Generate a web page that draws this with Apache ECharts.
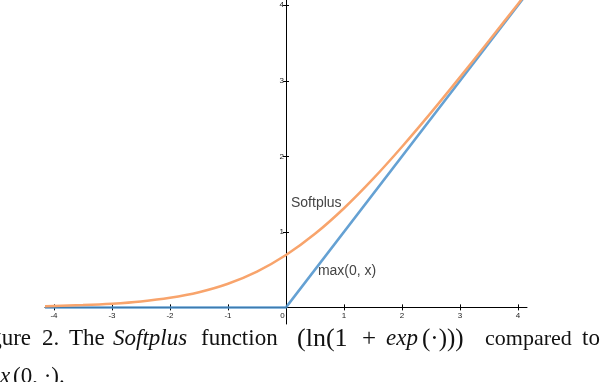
<!DOCTYPE html>
<html><head><meta charset="utf-8">
<script src="https://cdn.jsdelivr.net/npm/echarts@6/dist/echarts.min.js"></script>
<style>html,body{margin:0;padding:0;background:#fff}#c{width:608px;height:382px}</style>
</head><body><div id="c"></div>
<script>
// Data
const softplusX = [-4.155, -4, -3.5, -3, -2.5, -2, -1.5, -1, -0.5, 0, 0.5, 1, 1.5, 2, 2.5, 3, 3.5, 4, 4.155];
const softplusY = [0.016, 0.018, 0.03, 0.049, 0.079, 0.127, 0.201, 0.313, 0.474, 0.693, 0.974, 1.313, 1.701, 2.127, 2.579, 3.049, 3.53, 4.018, 4.17];
const reluX = [-4.155, 0, 4.155];
const reluY = [0, 0, 4.155];
const xTicks = [-4, -3, -2, -1, 0, 1, 2, 3, 4];
const yTicks = [1, 2, 3, 4];
const yTickMarks = [0, 1, 2, 3, 4];
const softplusLabel = 'Softplus';
const reluLabel = 'max(0, x)';

const X_MIN = -4.155, X_MAX = 4.155, Y_MIN = -0.22, Y_MAX = 4.07;
const ORANGE = '#f8a46c', BLUE = '#4a90cb';

// layout
const G = {left: 45, right: 81, top: 0, bottom: 58};
const W = 608, H = 382;
const gw = W - G.left - G.right, gh = H - G.top - G.bottom;
const zeroX = G.left + (0 - X_MIN) / (X_MAX - X_MIN) * gw;        // pixel of x = 0
const zeroY = G.top + (Y_MAX - 0) / (Y_MAX - Y_MIN) * gh;         // pixel of y = 0
const xOff = -(H - G.bottom - zeroY);   // move x axis from grid bottom up to y = 0
const yOff = -(zeroX - G.left);         // move y axis from grid left to x = 0

const chart = echarts.init(document.getElementById('c'), null, {renderer: 'canvas'});
const lblFont = {fontSize: 8, fontFamily: 'Liberation Sans', color: '#222'};
const serif = '23px "Liberation Serif"';
const serifS = '22px "Liberation Serif"';
const serifM = '25px "Liberation Serif"';
const serifL = '26px "Liberation Serif"';
const serifI = 'italic 23px "Liberation Serif"';
function cap(text, x, y, font, align) {
  return {type: 'text', x: x, y: y, silent: true,
    style: {text: text, font: font, fill: '#111', align: align || 'left', verticalAlign: 'middle'}};
}
const tickStyle = {color: '#000', width: 1};
chart.setOption({
  animation: false,
  grid: G,
  xAxis: [{
    type: 'value', min: X_MIN, max: X_MAX, position: 'bottom', offset: xOff,
    axisLine: {onZero: false, lineStyle: {color: '#000', width: 1}},
    axisTick: {show: true, length: 3, customValues: xTicks, lineStyle: tickStyle},
    axisLabel: Object.assign({customValues: xTicks, margin: 4,
      formatter: v => v === 0 ? '{z|0}' : String(v),
      rich: {z: {fontSize: 8, fontFamily: 'Liberation Sans', color: '#222', padding: [0, 7, 0, 0]}}}, lblFont),
    splitLine: {show: false}
  }, {
    type: 'value', min: X_MIN, max: X_MAX, position: 'bottom', offset: xOff,
    axisLine: {show: false, onZero: false},
    axisTick: {show: true, inside: true, length: 3, customValues: xTicks, lineStyle: tickStyle},
    axisLabel: {show: false}, splitLine: {show: false}
  }],
  yAxis: [{
    type: 'value', min: Y_MIN, max: Y_MAX, position: 'left', offset: yOff,
    axisLine: {show: true, onZero: false, lineStyle: {color: '#000', width: 1}},
    axisTick: {show: true, length: 3, customValues: yTickMarks, lineStyle: tickStyle},
    axisLabel: Object.assign({customValues: yTicks, margin: 2}, lblFont),
    splitLine: {show: false}
  }, {
    type: 'value', min: Y_MIN, max: Y_MAX, position: 'left', offset: yOff,
    axisLine: {show: false, onZero: false},
    axisTick: {show: true, inside: true, length: 3, customValues: yTickMarks, lineStyle: tickStyle},
    axisLabel: {show: false}, splitLine: {show: false}
  }],
  series: [{
    type: 'line', name: 'relu', xAxisIndex: 0, yAxisIndex: 0,
    data: reluX.map((x, i) => [x, reluY[i]]),
    symbol: 'none', lineStyle: {color: BLUE, width: 2.5, opacity: 0.85}, z: 3,
    markPoint: {symbol: 'circle', symbolSize: 0, data: [{coord: [0.55, 0.48]}],
      label: {show: true, formatter: reluLabel, position: 'right', distance: 0,
        fontSize: 14, fontFamily: 'Liberation Sans', color: '#444'}}
  }, {
    type: 'line', name: 'softplus', xAxisIndex: 0, yAxisIndex: 0,
    data: softplusX.map((x, i) => [x, softplusY[i]]),
    symbol: 'none', smooth: 0.3, lineStyle: {color: ORANGE, width: 2.5}, z: 4,
    markPoint: {symbol: 'circle', symbolSize: 0, data: [{coord: [0.086, 1.38]}],
      label: {show: true, formatter: softplusLabel, position: 'right', distance: 0,
        fontSize: 14, fontFamily: 'Liberation Sans', color: '#444'}}
  }],
  graphic: [
    cap('Figure', 31, 339, serif, 'right'),
    cap('2.', 42, 339, serif),
    cap('The', 69, 339, serif),
    cap('Softplus', 113, 339, serifI),
    cap('function', 201, 339, serif),
    cap('(ln(1', 297, 339, serifL),
    cap('+', 362, 339, serifM),
    cap('exp', 386, 339, serifI),
    cap('(·)))', 422, 339, serifM),
    cap('compared', 485, 339, serifS),
    cap('to', 582, 339, serif),
    cap('ma', 0, 377, serifI, 'right'),
    cap('x', 0, 377, serifI),
    cap('(0, ·).', 13, 377, serif)
  ]
});
</script></body></html>
